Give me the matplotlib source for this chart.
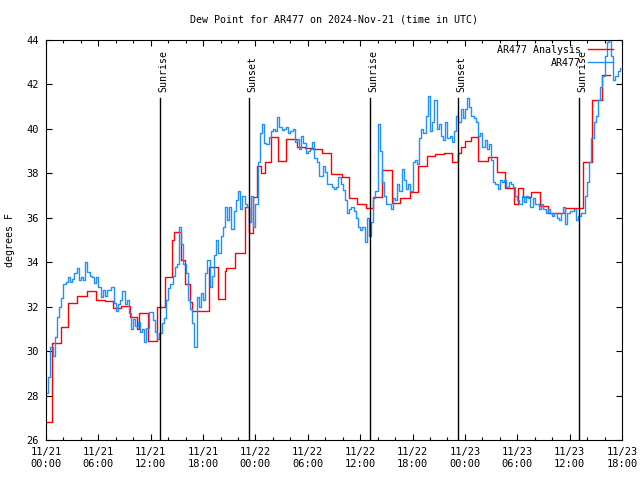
import numpy as np
import matplotlib
matplotlib.use('Agg')
import matplotlib.pyplot as plt

# hours since 2024-11-21 00:00 UTC
x_ticks = [0, 6, 12, 18, 24, 30, 36, 42, 48, 54, 60, 66]
x_ticklabels = ['11/21\n00:00', '11/21\n06:00', '11/21\n12:00', '11/21\n18:00',
                '11/22\n00:00', '11/22\n06:00', '11/22\n12:00', '11/22\n18:00',
                '11/23\n00:00', '11/23\n06:00', '11/23\n12:00', '11/23\n18:00']
y_ticks = [26, 28, 30, 32, 34, 36, 38, 40, 42, 44]

# observed dew point, every 15 minutes
blue_step = 0.25
blue_dewpt = [
    28.1, 28.85, 30.2, 29.8, 30.65, 31.55, 32.0, 32.4, 33.0, 33.1, 33.35, 33.1,
    33.25, 33.5, 33.75, 33.2, 33.35, 33.2, 34.0, 33.55, 33.4, 33.35, 33.05, 33.35,
    32.9, 32.45, 32.75, 32.5, 32.75, 32.75, 32.9, 32.15, 31.8, 32.1, 32.3, 32.7,
    32.1, 32.3, 31.7, 31.0, 31.45, 31.15, 31.3, 30.85, 31.0, 30.4, 31.05, 31.75,
    31.75, 31.4, 30.85, 30.55, 30.8, 31.25, 31.5, 32.3, 32.83, 33.0, 33.4, 33.8,
    33.9, 35.6, 34.8, 33.9, 33.5, 32.3, 31.9, 31.25, 30.2, 32.45, 32.0, 32.6,
    32.3, 33.5, 34.1, 32.9, 33.4, 34.33, 35.0, 34.4, 35.2, 35.6, 36.5, 35.9,
    36.5, 35.5, 36.3, 36.8, 37.2, 36.4, 37.0, 36.6, 36.5, 35.8, 37.0, 35.6,
    36.6, 38.5, 39.8, 40.2, 39.35, 39.3, 39.65, 39.9, 40.0, 39.9, 40.55, 40.1,
    39.95, 40.0, 40.1, 39.8, 39.9, 40.0, 39.4, 39.55, 39.1, 39.7, 39.35, 38.9,
    39.0, 39.1, 39.4, 38.7, 38.5, 37.9, 37.9, 38.35, 38.05, 37.5, 37.5, 37.4,
    37.3, 37.4, 37.85, 37.5, 37.25, 36.8, 36.2, 36.4, 36.5, 36.3, 36.0, 35.6,
    35.45, 35.6, 34.9, 36.0, 35.2, 35.8, 36.9, 37.2, 40.2, 39.0, 37.6, 37.0,
    36.6, 36.6, 36.4, 36.9, 36.8, 37.5, 37.2, 38.2, 37.7, 37.3, 37.5, 37.2,
    38.5, 38.6, 38.4, 39.6, 40.0, 39.8, 40.6, 41.5, 39.9, 40.3, 41.3, 40.0,
    40.2, 39.7, 39.5, 40.3, 39.6, 39.7, 39.4, 39.9, 40.6, 40.3, 40.9, 40.5,
    40.9, 41.4, 41.0, 40.6, 40.5, 40.3, 39.7, 39.8, 39.2, 39.5, 39.1, 39.3,
    38.6, 37.6, 37.5, 37.3, 37.7, 37.6, 37.7, 37.4, 37.6, 37.5, 37.4, 37.0,
    36.8, 36.6, 37.0, 36.7, 37.0, 36.9, 36.5, 36.9, 36.6, 36.6, 36.4, 36.6,
    36.4, 36.2, 36.4, 36.2, 36.1, 36.2, 36.0, 35.9, 36.2, 36.5, 35.7, 36.2,
    36.3, 36.3, 36.4, 35.9, 36.1, 36.2, 36.2, 37.0, 37.6, 38.5, 39.6, 40.3,
    40.6, 41.3, 41.9, 42.4, 43.3, 43.9, 44.5, 43.3, 42.2, 42.4, 42.6, 42.75,
]

# analysis dew point (step changes)
red_hours = [0.0, 0.73, 1.68, 2.56, 3.6, 4.66, 5.69, 6.76, 7.7, 8.65, 9.63, 10.4,
             10.7, 11.72, 12.68, 13.6, 14.45, 14.63, 15.43, 15.97, 16.46, 16.77,
             18.64, 19.71, 20.47, 20.6, 21.7, 22.76, 23.3, 23.76, 24.14, 24.64,
             25.09, 25.74, 26.62, 27.46, 28.72, 29.68, 30.63, 31.59, 32.66, 33.88,
             34.72, 35.64, 36.63, 37.5, 38.54, 39.61, 40.56, 41.71, 42.66, 43.62,
             44.57, 45.64, 46.56, 47.25, 47.6, 48.0, 48.7, 49.54, 50.68, 51.64,
             52.6, 53.63, 54.13, 54.7, 55.58, 56.6, 57.56, 59.47, 61.57, 62.53,
             63.67, 64.63]
red_dewpt = [26.8, 30.35, 31.07, 32.15, 32.5, 32.69, 32.3, 32.24, 31.93, 32.03, 31.52, 31.0,
             31.7, 30.46, 32.0, 33.35, 35.0, 35.35, 34.1, 33.0, 32.2, 31.8,
             33.8, 32.34, 33.6, 33.73, 34.43, 36.5, 35.3, 36.95, 38.33, 38.03,
             38.53, 39.62, 38.56, 39.53, 39.2, 39.13, 39.08, 38.9, 37.97, 37.85,
             36.87, 36.6, 36.45, 36.95, 38.15, 36.65, 36.9, 37.15, 38.33, 38.78,
             38.85, 38.9, 38.53, 38.9, 39.2, 39.45, 39.65, 38.56, 38.72, 38.08,
             37.33, 36.6, 37.33, 36.92, 37.18, 36.53, 36.2, 36.43, 38.53, 41.3,
             42.43, 42.43]

sun_hours = [13.06, 23.26, 37.13, 47.2, 61.07]
sun_labels = ['Sunrise', 'Sunset', 'Sunrise', 'Sunset', 'Sunrise']

plt.rcParams['font.family'] = 'DejaVu Sans Mono'
plt.rcParams['font.size'] = 7.2

fig = plt.figure(figsize=(6.4, 4.8), dpi=100)
ax = fig.add_axes([46/640, 40/480, 576/640, 400/480])

blue_hours = np.arange(len(blue_dewpt)) * blue_step
ax.step(red_hours, red_dewpt, where='post', color='#ff0000', lw=1.0,
        label='AR477 Analysis')
ax.step(blue_hours, blue_dewpt, where='post', color='#1e90ff', lw=1.0,
        label='AR477')

for t, lab in zip(sun_hours, sun_labels):
    ax.plot([t, t], [26, 41.4], color='black', lw=1.0)
    ax.text(t + 0.35, 41.65, lab, rotation=90, ha='center', va='bottom')

ax.set_xlim(0, 66)
ax.set_ylim(26, 44)
ax.set_xticks(x_ticks)
ax.set_xticklabels(x_ticklabels, fontsize=7.5)
ax.set_xticks(np.arange(0, 67, 2), minor=True)
ax.set_yticks(y_ticks)
ax.set_yticklabels([str(v) for v in y_ticks], fontsize=7.5)
ax.tick_params(which='both', direction='in', top=True, right=True, width=0.8)
ax.tick_params(which='major', length=4, pad=5)
ax.tick_params(which='minor', length=2)
for s in ax.spines.values():
    s.set_linewidth(0.8)

ax.legend(loc='upper right', frameon=False, markerfirst=False,
          bbox_to_anchor=((613 - 46) / 576, (440 - 45) / 400),
          borderaxespad=0, borderpad=0, handlelength=2.5,
          handletextpad=0.7, labelspacing=0.3)

fig.text(334/640, 1 - 19/480, 'Dew Point for AR477 on 2024-Nov-21 (time in UTC)',
         ha='center', va='center')
fig.text(10/640, 0.5, 'degrees F', rotation=90, ha='center', va='center')

fig.savefig('out.png', dpi=100)
